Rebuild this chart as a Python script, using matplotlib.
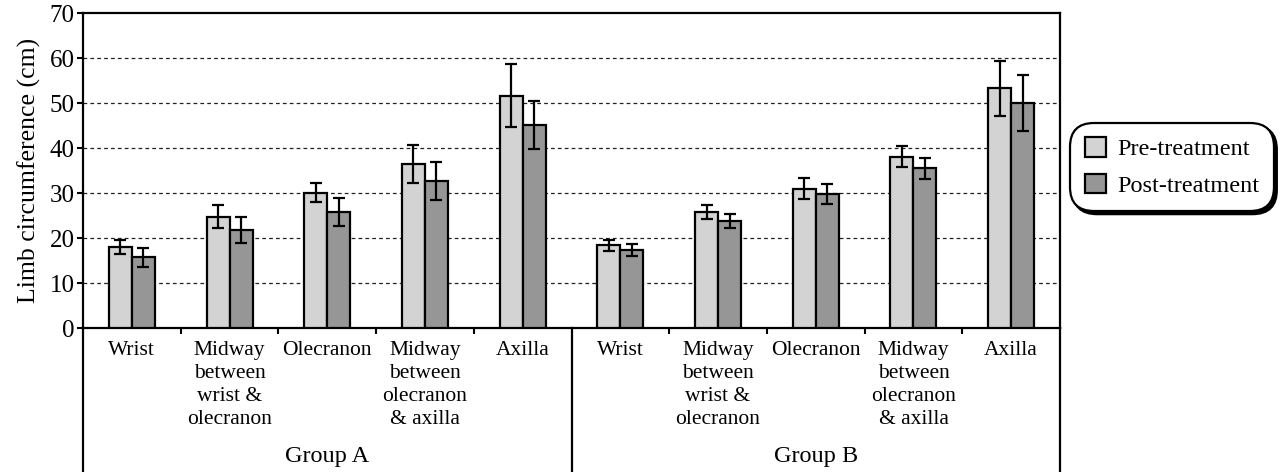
import matplotlib
matplotlib.use("Agg")
import matplotlib.pyplot as plt
import matplotlib.transforms as mtransforms
import numpy as np

plt.rcParams['font.family'] = ['Liberation Serif', 'DejaVu Serif']

categories = ["Wrist", "Midway\nbetween\nwrist &\nolecranon", "Olecranon",
              "Midway\nbetween\nolecranon\n& axilla", "Axilla"] * 2
groups = ["Group A", "Group B"]
pre_vals = [18.1, 24.8, 30.1, 36.5, 51.6, 18.4, 25.8, 31.0, 38.1, 53.3]
pre_err = [1.5, 2.6, 2.1, 4.3, 7.0, 1.2, 1.6, 2.4, 2.3, 6.1]
post_vals = [15.8, 21.8, 25.8, 32.7, 45.2, 17.4, 23.8, 29.8, 35.5, 50.0]
post_err = [2.1, 2.8, 3.1, 4.3, 5.3, 1.3, 1.6, 2.3, 2.4, 6.3]
yticks = [0, 10, 20, 30, 40, 50, 60, 70]

fig = plt.figure(figsize=(12.83, 4.72), dpi=100)
ax = fig.add_axes([83/1283, 1-328.3/472, (1060-83)/1283, (328.3-13)/472])

x = np.arange(len(categories))
w = 0.235
off = 0.118
ekw = dict(elinewidth=1.6, capthick=1.6, ecolor='black')
ax.bar(x - off, pre_vals, w, color='#d3d3d3', edgecolor='black', linewidth=1.6,
       yerr=pre_err, capsize=4, error_kw=ekw, label='Pre-treatment', zorder=3)
ax.bar(x + off, post_vals, w, color='#969696', edgecolor='black', linewidth=1.6,
       yerr=post_err, capsize=4, error_kw=ekw, label='Post-treatment', zorder=3)

ax.set_ylim(0, 70)
ax.set_xlim(-0.5, len(categories) - 0.5)
ax.set_yticks(yticks)
ax.set_yticklabels([str(t) for t in yticks], fontsize=18)
for t in yticks[1:-1]:
    ax.axhline(t, color='#222222', lw=0.9, ls=(0, (3, 2.5)), zorder=1)

for s in ax.spines.values():
    s.set_linewidth(1.6)
ax.tick_params(axis='y', direction='out', length=4, width=1.5, pad=2)
bounds = [i + 0.5 for i in range(len(categories) - 1) if i != 4]
ax.set_xticks(bounds)
ax.set_xticklabels([])
ax.tick_params(axis='x', direction='out', length=4, width=1.5)

ax.set_ylabel("Limb circumference (cm)", fontsize=18.5, labelpad=6)

trans = mtransforms.blended_transform_factory(ax.transData, ax.transAxes)
for xi, lab in zip(x, categories):
    ax.annotate(lab, xy=(xi, 0), xycoords=trans, xytext=(0, -9), textcoords='offset points',
                ha='center', va='top', fontsize=15.5, linespacing=1.28)
for gi, g in enumerate(groups):
    ax.annotate(g, xy=(gi * 5 + 2, 0), xycoords=trans, xytext=(0, -96), textcoords='offset points',
                ha='center', va='baseline', fontsize=17.5)
for xb in [-0.5, 4.5, 9.5]:
    ax.plot([xb, xb], [0, -0.47], transform=trans, color='black', lw=1.6, clip_on=False)

leg = ax.legend(loc='center', bbox_to_anchor=(1172/1283, 1-167/472), bbox_transform=fig.transFigure,
                fontsize=17.5, fancybox=True, framealpha=1, edgecolor='black',
                handlelength=0.9, handleheight=0.85, handletextpad=0.45, labelspacing=0.55,
                borderpad=0.35, shadow={'color': 'black', 'alpha': 1})
leg.get_frame().set_linewidth(1.6)
leg.get_frame().set_boxstyle('round,pad=0.25,rounding_size=1.0')

fig.savefig("out.png", dpi=100)
